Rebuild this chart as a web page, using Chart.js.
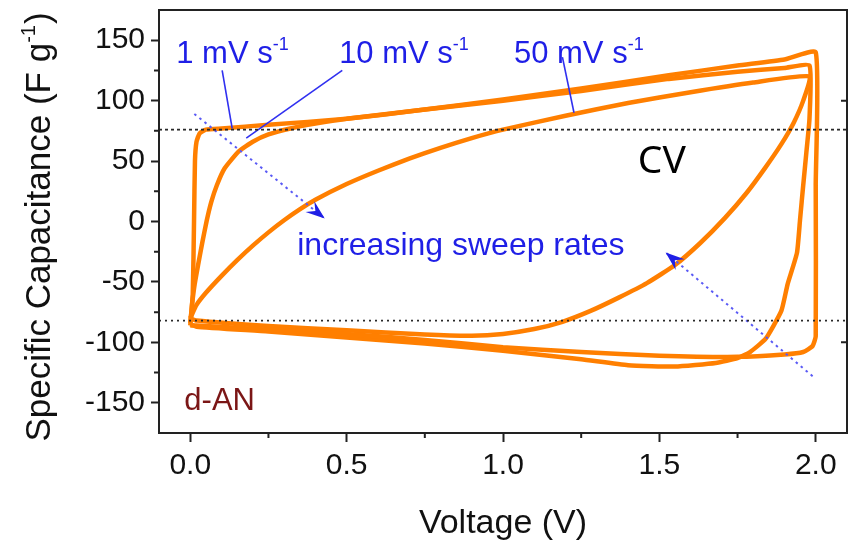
<!DOCTYPE html>
<html>
<head>
<meta charset="utf-8">
<script src="https://cdn.jsdelivr.net/npm/chart.js@4.4.1/dist/chart.umd.min.js"></script>
<style>
  html, body { margin: 0; padding: 0; background: #fff; }
</style>
</head>
<body>
<canvas id="cv" width="853" height="542"></canvas>
<script>
// CV loops of d-AN at three sweep rates: voltage (V) vs specific capacitance (F/g)
const v1  = [0.0, 0.008, 0.012, 0.015, 0.02, 0.03, 0.05, 0.1, 0.25, 0.5, 0.73, 1.0, 1.25, 1.53, 1.75, 1.9, 2.0, 2.0, 2.0, 1.99, 1.96, 1.9, 1.75, 1.5, 1.25, 1.0, 0.75, 0.5, 0.25, 0.02, 0.0];
const c1  = [-86, -60, 0, 50, 66, 73, 76, 77, 80, 85, 92, 101, 110, 121, 129, 134, 140, 30, -95, -103, -108, -110, -112, -111, -108, -104, -98, -93, -89.5, -86, -86];

const v10 = [0.0, 0.006, 0.014, 0.025, 0.038, 0.052, 0.067, 0.085, 0.11, 0.155, 0.2, 0.25, 0.32, 0.4, 0.5, 0.73, 1.0, 1.25, 1.53, 1.75, 1.9, 1.98, 1.98, 1.97, 1.96, 1.95, 1.94, 1.91, 1.89, 1.84, 1.79, 1.75, 1.68, 1.55, 1.4, 1.25, 1.0, 0.75, 0.5, 0.25, 0.02, 0.0];
const c10 = [-84, -68, -52, -36, -18, 0, 16, 30, 44, 58, 66, 72, 77, 81, 85, 92, 100, 108, 118, 124, 127, 129, 85, 57, 30, 2, -26, -52, -74, -97, -108, -113, -117, -120, -119, -114, -107, -101, -96, -91, -87, -85];

const v50 = [0.0, 0.02, 0.05, 0.1, 0.15, 0.2, 0.25, 0.3, 0.35, 0.4, 0.5, 0.6, 0.7, 0.8, 0.9, 1.0, 1.2, 1.4, 1.6, 1.8, 1.98,
             1.96, 1.93, 1.89, 1.84, 1.78, 1.71, 1.63, 1.55, 1.46, 1.37, 1.28, 1.19, 1.1, 1.0, 0.9, 0.75, 0.5, 0.25, 0.02, 0.0];
const c50 = [-80, -69, -59, -45, -32, -20, -9, 1, 10, 18, 31, 42, 52, 61, 69, 76, 87.5, 98, 107, 115, 120,
             100, 82, 64, 45, 24, 3, -18, -36, -51, -63, -74, -83, -89, -93, -94.5, -93.5, -90, -86.5, -82, -80];

const xTicks = [0.0, 0.5, 1.0, 1.5, 2.0];
const xMinor = [0.25, 0.75, 1.25, 1.75];
const yTicks = [-150, -100, -50, 0, 50, 100, 150];
const yMinor = [-125, -75, -25, 25, 75, 125];
const yRight = [-100, 100];
const refLevels = [76, -82];

// leader lines from the rate labels and the two "increasing" arrows
const lead1  = [[0.102, 125], [0.134, 77]];
const lead10 = [[0.486, 125], [0.179, 69]];
const lead50 = [[1.19, 136], [1.227, 90]];
const arrowA = [[0.013, 89], [0.43, 2.5]];
const arrowB = [[1.99, -128], [1.52, -25.6]];

const ORANGE = '#ff7f00';
const BLUE = '#1f1fe6';
const FONT = '"Liberation Sans", Arial, sans-serif';

const notes = [
  { parts: [['1 mV s'], ['-1', true]], v: -0.045, c: 131, color: BLUE, size: 31 },
  { parts: [['10 mV s'], ['-1', true]], v: 0.476, c: 131, color: BLUE, size: 31 },
  { parts: [['50 mV s'], ['-1', true]], v: 1.035, c: 131, color: BLUE, size: 31 },
  { parts: [['increasing sweep rates']], v: 0.342, c: -28, color: BLUE, size: 32 },
  { parts: [['CV']], v: 1.431, c: 40.5, color: '#000', size: 39, family: '"Noto Sans", sans-serif' },
  { parts: [['d-AN']], v: -0.019, c: -156, color: '#7b1616', size: 31 }
];

const toPts = (xs, ys) => xs.map((v, i) => ({ x: v, y: ys[i] }));
const pairPts = arr => arr.map(p => ({ x: p[0], y: p[1] }));

// draw text made of plain and superscript pieces, starting at (x, y) baseline
function drawParts(ctx, parts, x, y, size, color, family, align) {
  const supSize = Math.round(size * 0.58);
  const widths = parts.map(p => {
    ctx.font = (p[1] ? supSize : size) + 'px ' + family;
    return ctx.measureText(p[0]).width;
  });
  const total = widths.reduce((a, b) => a + b, 0);
  let cx = align === 'center' ? x - total / 2 : x;
  ctx.fillStyle = color;
  ctx.textBaseline = 'alphabetic';
  ctx.textAlign = 'left';
  parts.forEach((p, i) => {
    ctx.font = (p[1] ? supSize : size) + 'px ' + family;
    ctx.fillText(p[0], cx, p[1] ? y - size * 0.42 : y);
    cx += widths[i] + (p[1] ? 1 : 0);
  });
}

const decor = {
  id: 'decor',
  afterDraw(chart) {
    const { ctx, chartArea: a, scales: { x, y } } = chart;
    ctx.save();
    ctx.strokeStyle = '#222';
    ctx.lineWidth = 2;
    ctx.strokeRect(a.left, a.top, a.right - a.left, a.bottom - a.top);

    ctx.beginPath();
    xMinor.forEach(v => { const px = x.getPixelForValue(v); ctx.moveTo(px, a.bottom); ctx.lineTo(px, a.bottom + 5); });
    yMinor.forEach(v => { const py = y.getPixelForValue(v); ctx.moveTo(a.left, py); ctx.lineTo(a.left - 5, py); });
    yRight.forEach(v => { const py = y.getPixelForValue(v); ctx.moveTo(a.right, py); ctx.lineTo(a.right - 6, py); });
    ctx.stroke();

    // arrow heads
    chart.data.datasets.forEach((ds, i) => {
      if (!ds.arrow) return;
      const pts = chart.getDatasetMeta(i).data;
      const p1 = pts[pts.length - 2], p2 = pts[pts.length - 1];
      const ang = Math.atan2(p2.y - p1.y, p2.x - p1.x);
      ctx.save();
      ctx.translate(p2.x, p2.y);
      ctx.rotate(ang);
      ctx.fillStyle = BLUE;
      ctx.beginPath();
      ctx.moveTo(0, 0);
      ctx.lineTo(-19, -7);
      ctx.lineTo(-12, 0);
      ctx.lineTo(-19, 7);
      ctx.closePath();
      ctx.fill();
      ctx.restore();
    });

    notes.forEach(n => {
      drawParts(ctx, n.parts, x.getPixelForValue(n.v), y.getPixelForValue(n.c),
        n.size, n.color, n.family || FONT, 'left');
    });

    // axis titles
    drawParts(ctx, [['Voltage (V)']], (a.left + a.right) / 2, 533, 34, '#111', FONT, 'center');
    ctx.save();
    ctx.translate(50, (a.top + a.bottom) / 2 + 6);
    ctx.rotate(-Math.PI / 2);
    drawParts(ctx, [['Specific Capacitance (F g'], ['-1', true], [')']], 0, 0, 35, '#111', FONT, 'center');
    ctx.restore();
    ctx.restore();
  }
};

const loop = (data, w) => ({
  data, borderColor: ORANGE, borderWidth: w, pointRadius: 0, tension: 0.15, showLine: true, order: 5
});
const thin = (data, color, dash, w) => ({
  data, borderColor: color, borderWidth: w, borderDash: dash, pointRadius: 0, showLine: true, order: 1
});

const datasets = [
  thin([{ x: -0.1, y: refLevels[0] }, { x: 2.1, y: refLevels[0] }], '#2a2a2a', [3, 3], 1.8),
  thin([{ x: -0.1, y: refLevels[1] }, { x: 2.1, y: refLevels[1] }], '#2a2a2a', [2, 4], 1.8),
  thin(pairPts(lead1), '#3030f0', [], 1.6),
  thin(pairPts(lead10), '#3030f0', [], 1.6),
  thin(pairPts(lead50), '#3030f0', [], 1.6),
  Object.assign(thin(pairPts(arrowA), '#5a5af5', [2.5, 4], 2), { arrow: true }),
  Object.assign(thin(pairPts(arrowB), '#5a5af5', [2.5, 4], 2), { arrow: true }),
  loop(toPts(v1, c1), 4.5),
  loop(toPts(v10, c10), 4.5),
  loop(toPts(v50, c50), 4.5)
];

new Chart(document.getElementById('cv'), {
  type: 'scatter',
  data: { datasets },
  options: {
    responsive: false,
    animation: false,
    devicePixelRatio: 1,
    layout: { padding: { top: 10, right: 6, left: 0, bottom: 0 } },
    plugins: { legend: { display: false }, tooltip: { enabled: false } },
    scales: {
      x: {
        type: 'linear', min: -0.1, max: 2.1,
        afterBuildTicks: s => { s.ticks = xTicks.map(v => ({ value: v })); },
        afterFit: s => { s.height = 109; s.paddingLeft = 0; s.paddingRight = 0; },
        ticks: { font: { family: FONT, size: 30 }, color: '#111', padding: 6, callback: v => v.toFixed(1) },
        grid: { drawOnChartArea: false, tickLength: 9, tickColor: '#222', tickWidth: 2 },
        border: { color: '#222', width: 2 }
      },
      y: {
        type: 'linear', min: -175, max: 175,
        afterBuildTicks: s => { s.ticks = yTicks.map(v => ({ value: v })); },
        afterFit: s => { s.width = 159; s.paddingTop = 0; s.paddingBottom = 0; },
        ticks: { font: { family: FONT, size: 30 }, color: '#111', padding: 6, callback: v => String(v) },
        grid: { drawOnChartArea: false, tickLength: 8, tickColor: '#222', tickWidth: 2 },
        border: { color: '#222', width: 2 }
      }
    }
  },
  plugins: [decor]
});
</script>
</body>
</html>
